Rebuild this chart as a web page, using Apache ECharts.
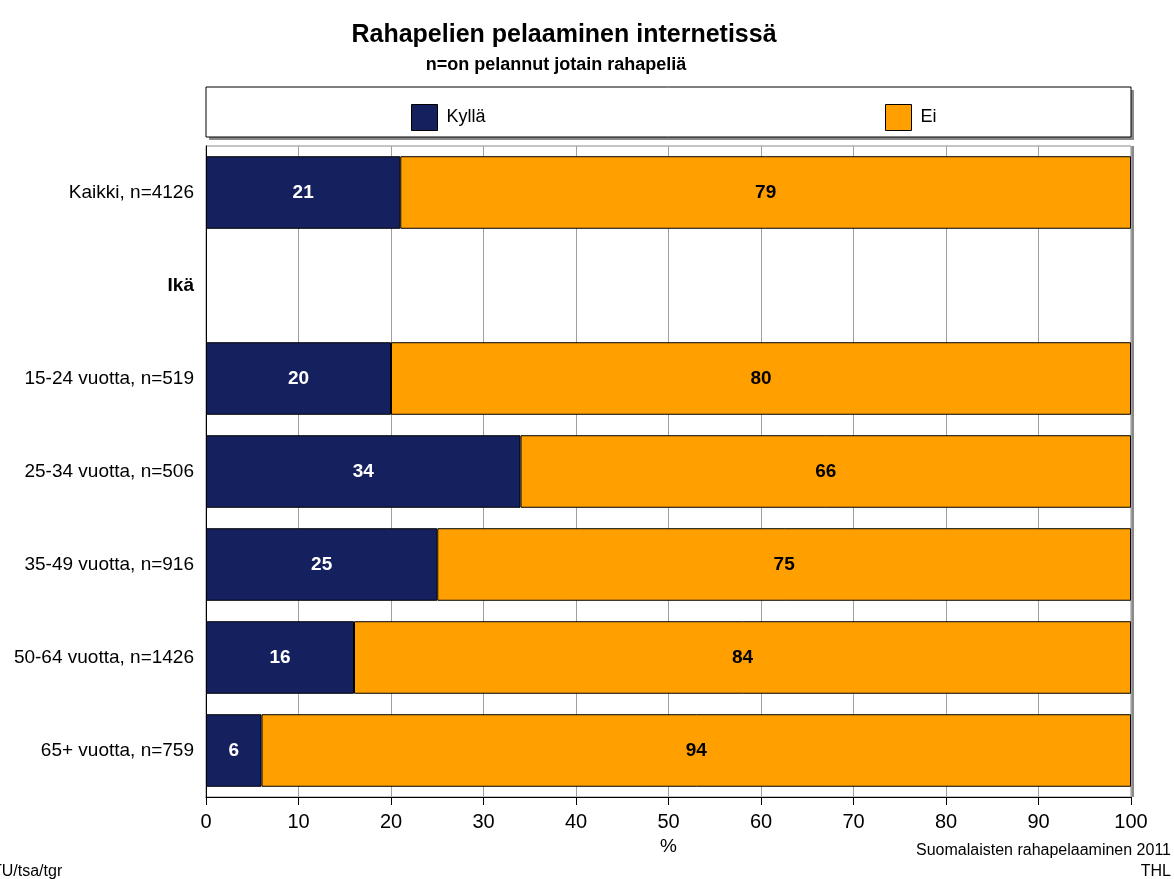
<!DOCTYPE html>
<html><head><meta charset="utf-8">
<script src="https://cdn.jsdelivr.net/npm/echarts@6/dist/echarts.min.js"></script>
<style>html,body{margin:0;padding:0;background:#fff}#c{width:1174px;height:879px}</style>
</head><body><div id="c"></div>
<script>
const categories = ['Kaikki, n=4126', 'Ikä', '15-24 vuotta, n=519', '25-34 vuotta, n=506', '35-49 vuotta, n=916', '50-64 vuotta, n=1426', '65+ vuotta, n=759'];
const kyllaValues = [21, null, 20, 34, 25, 16, 6];
const eiValues = [79, null, 80, 66, 75, 84, 94];
const seriesNames = ['Kyllä', 'Ei'];
const xTicks = [0, 10, 20, 30, 40, 50, 60, 70, 80, 90, 100];

const FONT = 'Liberation Sans, Arial, sans-serif';
const chart = echarts.init(document.getElementById('c'), null, {renderer: 'canvas'});
chart.setOption({
  animation: false,
  textStyle: {fontFamily: FONT},
  title: [
    {text: 'Rahapelien pelaaminen internetissä', left: 559, top: 18, textAlign: 'center',
     textStyle: {fontFamily: FONT, fontSize: 25, fontWeight: 'bold', color: '#000'}},
    {text: 'n=on pelannut jotain rahapeliä', left: 551, top: 51, textAlign: 'center',
     textStyle: {fontFamily: FONT, fontSize: 18, fontWeight: 'bold', color: '#000'}}
  ],
  graphic: [
    {type: 'rect', shape: {x: 209, y: 90, width: 925, height: 50}, z: -2, silent: true,
     style: {fill: '#8a8a8a'}},
    {type: 'rect', shape: {x: 206, y: 87, width: 925, height: 50}, z: -1, silent: true,
     style: {fill: '#fff', stroke: '#000', lineWidth: 1}},
    {type: 'rect', shape: {x: 209, y: 146, width: 925, height: 651}, z: -2, silent: true,
     style: {fill: '#8a8a8a'}},
    {type: 'rect', shape: {x: 206, y: 146, width: 925, height: 651}, z: -1, silent: true,
     style: {fill: '#fff', stroke: '#8a8a8a', lineWidth: 1}},
    {type: 'text', left: -8, top: 864, z: 5, style: {text: 'TU/tsa/tgr', fontFamily: FONT, fontSize: 16, fill: '#000'}},
    {type: 'text', right: 3, top: 843, z: 5, style: {text: 'Suomalaisten rahapelaaminen 2011', fontFamily: FONT, fontSize: 16, fill: '#000', textAlign: 'right'}},
    {type: 'text', right: 3, top: 864, z: 5, style: {text: 'THL', fontFamily: FONT, fontSize: 16, fill: '#000', textAlign: 'right'}}
  ],
  legend: [
    {data: [seriesNames[0]], left: 406, top: 99, itemWidth: 26, itemHeight: 26, z: 10, icon: 'rect',
     itemStyle: {borderColor: '#000', borderWidth: 1},
     textStyle: {fontFamily: FONT, fontSize: 18, color: '#000', padding: [0, 0, 0, 4]}},
    {data: [seriesNames[1]], left: 880, top: 99, itemWidth: 26, itemHeight: 26, z: 10, icon: 'rect',
     itemStyle: {borderColor: '#000', borderWidth: 1},
     textStyle: {fontFamily: FONT, fontSize: 18, color: '#000', padding: [0, 0, 0, 4]}}
  ],
  grid: {left: 206, right: 43, top: 146, bottom: 82, show: false},
  xAxis: {
    type: 'value', min: 0, max: 100, interval: 10,
    name: '%', nameLocation: 'middle', nameGap: 40,
    nameTextStyle: {fontFamily: FONT, fontSize: 19, color: '#000'},
    axisLine: {show: true, lineStyle: {color: '#000', width: 1}},
    axisTick: {show: true, length: 8, lineStyle: {color: '#000'}},
    axisLabel: {fontFamily: FONT, fontSize: 20, color: '#000', margin: 15,
                formatter: v => xTicks.includes(v) ? String(v) : ''},
    splitLine: {show: true, lineStyle: {color: '#a0a0a0', width: 1}}
  },
  yAxis: {
    type: 'category', data: categories, inverse: true,
    axisLine: {show: true, lineStyle: {color: '#000', width: 1}},
    axisTick: {show: false},
    axisLabel: {fontFamily: FONT, fontSize: 19, color: '#000', margin: 12,
      formatter: v => v === 'Ikä' ? '{b|Ikä}' : v,
      rich: {b: {fontFamily: FONT, fontSize: 19, fontWeight: 'bold', color: '#000'}}}
  },
  series: [
    {name: seriesNames[0], type: 'bar', stack: 's', data: kyllaValues, barCategoryGap: '22%',
     itemStyle: {color: '#15205F', borderColor: '#000', borderWidth: 1},
     label: {show: true, position: 'inside', fontFamily: FONT, fontSize: 19, fontWeight: 'bold', color: '#fff'}},
    {name: seriesNames[1], type: 'bar', stack: 's', data: eiValues, barCategoryGap: '22%',
     itemStyle: {color: '#FFA000', borderColor: '#000', borderWidth: 1},
     label: {show: true, position: 'inside', fontFamily: FONT, fontSize: 19, fontWeight: 'bold', color: '#000'}}
  ]
});
</script></body></html>
